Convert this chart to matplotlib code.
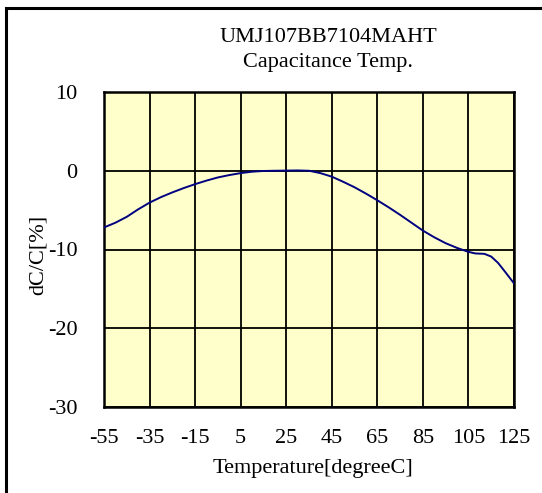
import matplotlib
matplotlib.use("Agg")
import matplotlib.pyplot as plt
from matplotlib.patches import Rectangle

temps = [-55, -50, -45, -40, -35, -30, -25, -20, -15, -10, -5, 0, 5, 10, 15, 20,
         25, 30, 35, 40, 45, 50, 55, 60, 65, 70, 75, 80, 85, 90, 95, 100, 105,
         108, 112, 115, 118, 121, 125]
dcc = [-7.2, -6.6, -5.85, -4.9, -4.05, -3.35, -2.75, -2.2, -1.7, -1.25, -0.85,
       -0.55, -0.3, -0.12, -0.03, 0.0, 0.02, 0.04, 0.0, -0.3, -0.75, -1.4,
       -2.1, -2.9, -3.75, -4.65, -5.6, -6.6, -7.6, -8.45, -9.2, -9.8, -10.3,
       -10.5, -10.55, -10.9, -11.7, -12.8, -14.3]
xticks = [-55, -35, -15, 5, 25, 45, 65, 85, 105, 125]
yticks = [-30, -20, -10, 0, 10]
title_lines = ["UMJ107BB7104MAHT", "Capacitance Temp."]

plt.rcParams['font.family'] = ['Liberation Serif', 'DejaVu Serif']
plt.rcParams['axes.unicode_minus'] = False

W, H = 542, 493
fig = plt.figure(figsize=(W / 100, H / 100), dpi=100)
ax = fig.add_axes([104 / W, 1 - 407 / H, 410 / W, 315 / H])
ax.set_facecolor('#FFFFCC')

ax.plot(temps, dcc, color='#000080', lw=1.4, zorder=3, solid_joinstyle='round')
ax.set_xlim(-55, 125)
ax.set_ylim(-30, 10)
ax.set_xticks(xticks)
ax.set_yticks(yticks)
ax.grid(True, color='black', lw=1.3, zorder=1)
ax.set_axisbelow(True)
ax.tick_params(length=0, labelsize=16)
ax.tick_params(axis='x', pad=16)
ax.tick_params(axis='y', pad=19)
for s in ax.spines.values():
    s.set_color('black')
    s.set_linewidth(1.8)

ax.set_xlabel('Temperature[degreeC]', fontsize=16)
ax.xaxis.set_label_coords((313 - 104) / 410, -(468 - 407) / 315)
ax.xaxis.label.set_va('center')
ax.set_ylabel('dC/C[%]', fontsize=16)
ax.yaxis.set_label_coords(-(104 - 38) / 410, (407 - 255) / 315)
ax.yaxis.label.set_va('center')

fig.text(328 / W, 1 - 38 / H, title_lines[0], ha='center', va='center', fontsize=16)
fig.text(328 / W, 1 - 62 / H, title_lines[1], ha='center', va='center', fontsize=16)

# outer frame (right/bottom edges fall outside the image)
fig.patches.append(Rectangle((6 / W, -0.1), 1.2, 1 - 7.5 / H + 0.1,
                             transform=fig.transFigure, fill=False,
                             edgecolor='black', lw=2.2, zorder=0))

fig.savefig('out.png', dpi=100)
